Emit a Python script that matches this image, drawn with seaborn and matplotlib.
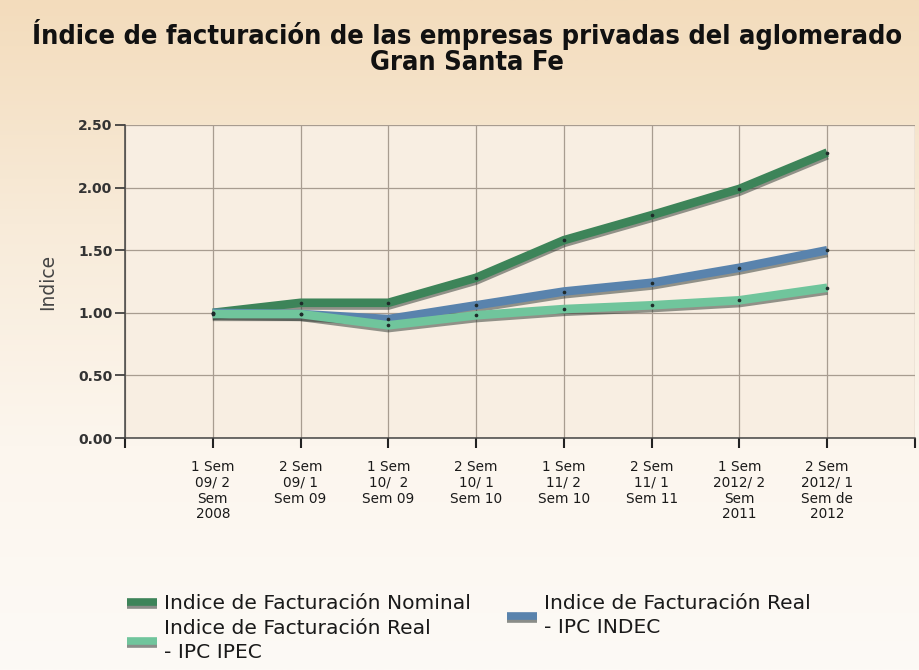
import numpy as np
import pandas as pd
import matplotlib
matplotlib.use("Agg")
import matplotlib.pyplot as plt
import matplotlib.patheffects as pe
from matplotlib.lines import Line2D
from matplotlib.colors import LinearSegmentedColormap
import seaborn as sns

# ---- data ----
periods = [
    "1 Sem\n09/ 2\nSem\n2008",
    "2 Sem\n09/ 1\nSem 09",
    "1 Sem\n10/  2\nSem 09",
    "2 Sem\n10/ 1\nSem 10",
    "1 Sem\n11/ 2\nSem 10",
    "2 Sem\n11/ 1\nSem 11",
    "1 Sem\n2012/ 2\nSem\n2011",
    "2 Sem\n2012/ 1\nSem de\n2012",
]
nominal = [1.00, 1.08, 1.08, 1.28, 1.58, 1.78, 1.99, 2.28]
real_indec = [1.00, 0.99, 0.95, 1.06, 1.17, 1.24, 1.36, 1.50]
real_ipec = [0.99, 0.99, 0.90, 0.98, 1.03, 1.06, 1.10, 1.20]
series_names = [
    "Indice de Facturación Nominal",
    "Indice de Facturación Real\n- IPC IPEC",
    "Indice de Facturación Real\n- IPC INDEC",
]
series_values = [nominal, real_ipec, real_indec]
colors = ["#3d8459", "#70c59c", "#5983ad"]
yticks = [0.0, 0.5, 1.0, 1.5, 2.0, 2.5]

rows = []
for name, vals in zip(series_names, series_values):
    for i, v in enumerate(vals):
        rows.append({"x": i, "valor": v, "serie": name})
df = pd.DataFrame(rows)

sns.set_theme(style="white")
plt.rcParams["font.family"] = ["DejaVu Sans"]

fig = plt.figure(figsize=(9.19, 6.70), dpi=100)

# background gradient
bg = fig.add_axes([0, 0, 1, 1], zorder=-10)
grad = np.linspace(0, 1, 256).reshape(-1, 1)
cmap = LinearSegmentedColormap.from_list("bg", ["#f3dcbc", "#f8ebd9", "#fcf6ee", "#fdfaf6"])
bg.imshow(grad, aspect="auto", cmap=cmap, extent=[0, 1, 0, 1], origin="upper")
bg.axis("off")

ax = fig.add_axes([125 / 919, 1 - 438 / 670, (915 - 125) / 919, (438 - 125) / 670])
ax.set_facecolor("#f8eee2")

palette = dict(zip(series_names, colors))
draw_order = [series_names[0], series_names[2], series_names[1]]
sns.lineplot(data=df, x="x", y="valor", hue="serie", hue_order=draw_order,
             palette=palette, linewidth=6.2, ax=ax, legend=False,
             solid_capstyle="butt", zorder=3)
for line in ax.get_lines():
    line.set_path_effects([
        pe.SimpleLineShadow(offset=(0, -2.0), shadow_color="#2c3530", alpha=0.5),
        pe.Normal(),
    ])
    line.set_solid_joinstyle("round")
sns.scatterplot(data=df, x="x", y="valor", color="#1f2a2a", s=7, ax=ax,
                legend=False, zorder=5, linewidth=0)

ax.set_xlim(-1, 8)
ax.set_ylim(0, 2.5)
ax.set_xticks(range(-1, 9))
ax.set_xticklabels([""] + periods + [""], fontsize=9.8, color="#1a1a1a",
                   linespacing=1.15)
ax.set_yticks(yticks)
ax.set_yticklabels([f"{v:.2f}" for v in yticks], fontsize=10,
                   fontweight="bold", color="#333333")
ax.grid(True, color="#a89c90", linewidth=0.9)
for s in ["top", "right"]:
    ax.spines[s].set_visible(False)
for s in ["left", "bottom"]:
    ax.spines[s].set_color("#444444")
    ax.spines[s].set_linewidth(1.1)
ax.tick_params(axis="y", direction="out", length=7, width=1.2, color="#333333", pad=2, left=True)
ax.tick_params(axis="x", direction="out", length=7, width=1.5, color="#222222", pad=9, bottom=True)
ax.set_xlabel("")
ax.set_ylabel("Indice", fontsize=13.5, color="#444444", labelpad=15)

# title
title = "Índice de facturación de las empresas privadas del aglomerado\nGran Santa Fe"
fig.text(467 / 919, 1 - 47 / 670, title, ha="center", va="center", fontsize=19.5,
         fontweight="bold", fontstretch="condensed", linespacing=1.0, color="#111111")

# legend (two columns built as two legends)
def make_handle(c):
    return Line2D([0], [0], color=c, linewidth=5.5, solid_capstyle="butt",
                  path_effects=[pe.SimpleLineShadow(offset=(0, -2), shadow_color="#2c3530", alpha=0.55),
                                pe.Normal()])

leg_kw = dict(frameon=False, fontsize=14.6, handlelength=1.5, handletextpad=0.3,
              labelspacing=0.3, borderaxespad=0, borderpad=0, loc="upper left")
leg1 = fig.legend([make_handle(colors[0]), make_handle(colors[1])],
                  [series_names[0], series_names[1]],
                  bbox_to_anchor=(127 / 919, 1 - 594 / 670), **leg_kw)
for t in leg1.get_texts():
    t.set_color("#1a1a1a")
    t.set_linespacing(1.35)
leg2 = fig.legend([make_handle(colors[2])], [series_names[2]],
                  bbox_to_anchor=(507 / 919, 1 - 594 / 670), **leg_kw)
for t in leg2.get_texts():
    t.set_color("#1a1a1a")
    t.set_linespacing(1.35)

fig.savefig("out.png", dpi=100)
